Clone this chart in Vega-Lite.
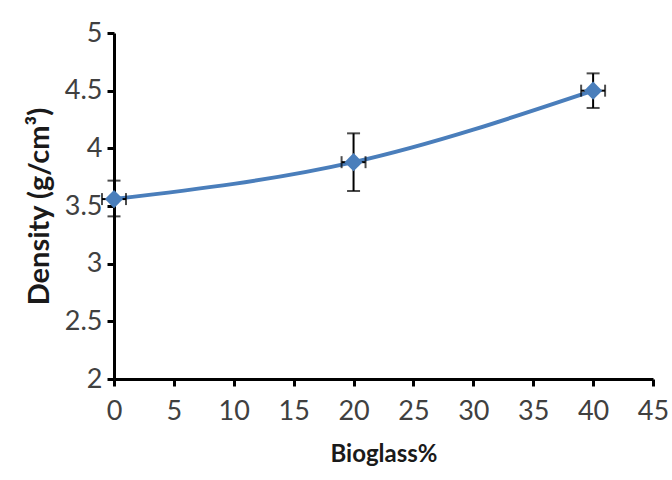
{
  "$schema": "https://vega.github.io/schema/vega-lite/v6.json",
  "autosize": {"type": "none"},
  "width": 539,
  "height": 346,
  "padding": {"left": 114, "top": 33, "right": 19, "bottom": 101},
  "background": "white",
  "config": {
    "view": {"stroke": null},
    "font": "Lato"
  },
  "data": {
    "values": [
      {"bioglass": 0, "density": 3.56, "ylo": 3.41, "yhi": 3.72, "xlo": -1, "xhi": 1},
      {"bioglass": 20, "density": 3.88, "ylo": 3.63, "yhi": 4.13, "xlo": 19, "xhi": 21},
      {"bioglass": 40, "density": 4.5, "ylo": 4.35, "yhi": 4.65, "xlo": 39, "xhi": 41}
    ]
  },
  "layer": [
    {
      "mark": {"type": "line", "color": "#4A7EBB", "strokeWidth": 4, "interpolate": "monotone"},
      "encoding": {
        "x": {"field": "bioglass", "type": "quantitative", "scale": {"domain": [0, 45], "nice": false},
          "axis": {"values": [0,5,10,15,20,25,30,35,40,45], "format": "~g", "title": "Bioglass%", "labelPadding": 12, "titlePadding": 18,
            "grid": false, "domainColor": "black", "domainWidth": 3, "tickColor": "black", "tickWidth": 3, "tickSize": 7,
            "labelFont": "Lato", "labelFontSize": 27, "labelColor": "#404040", "labelFlush": false,
            "titleFont": "Lato", "titleFontSize": 24, "titleFontWeight": "bold", "titleColor": "#1a1a1a"}},
        "y": {"field": "density", "type": "quantitative", "scale": {"domain": [2, 5], "nice": false, "zero": false},
          "axis": {"values": [2,2.5,3,3.5,4,4.5,5], "format": "~g", "title": "Density (g/cm³)", "labelPadding": 5, "titlePadding": 10,
            "grid": false, "domainColor": "black", "domainWidth": 3, "tickColor": "black", "tickWidth": 3, "tickSize": 7,
            "labelFont": "Lato", "labelFontSize": 27, "labelColor": "#404040", "labelFlush": false,
            "titleFont": "Lato", "titleFontSize": 29, "titleFontWeight": "bold", "titleColor": "#1a1a1a"}}
      }
    },
    {
      "mark": {"type": "rule", "color": "black", "strokeWidth": 2},
      "encoding": {
        "x": {"field": "bioglass", "type": "quantitative"},
        "y": {"field": "ylo", "type": "quantitative"},
        "y2": {"field": "yhi"}
      }
    },
    {
      "mark": {"type": "tick", "color": "black", "thickness": 2, "size": 13, "orient": "horizontal"},
      "encoding": {
        "x": {"field": "bioglass", "type": "quantitative"},
        "y": {"field": "ylo", "type": "quantitative"}
      }
    },
    {
      "mark": {"type": "tick", "color": "black", "thickness": 2, "size": 13, "orient": "horizontal"},
      "encoding": {
        "x": {"field": "bioglass", "type": "quantitative"},
        "y": {"field": "yhi", "type": "quantitative"}
      }
    },
    {
      "mark": {"type": "rule", "color": "black", "strokeWidth": 2},
      "encoding": {
        "x": {"field": "xlo", "type": "quantitative"},
        "x2": {"field": "xhi"},
        "y": {"field": "density", "type": "quantitative"}
      }
    },
    {
      "mark": {"type": "tick", "color": "black", "thickness": 2, "size": 12, "orient": "vertical"},
      "encoding": {
        "x": {"field": "xlo", "type": "quantitative"},
        "y": {"field": "density", "type": "quantitative"}
      }
    },
    {
      "mark": {"type": "tick", "color": "black", "thickness": 2, "size": 12, "orient": "vertical"},
      "encoding": {
        "x": {"field": "xhi", "type": "quantitative"},
        "y": {"field": "density", "type": "quantitative"}
      }
    },
    {
      "mark": {"type": "point", "shape": "diamond", "filled": true, "color": "#4A7EBB", "size": 330, "opacity": 1},
      "encoding": {
        "x": {"field": "bioglass", "type": "quantitative"},
        "y": {"field": "density", "type": "quantitative"}
      }
    }
  ]
}
